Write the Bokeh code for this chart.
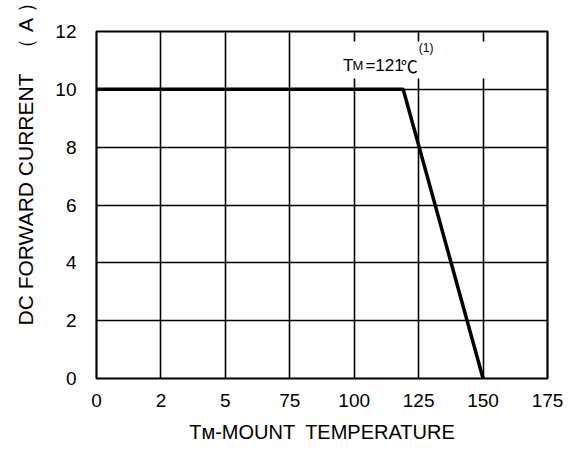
from bokeh.plotting import figure
from bokeh.models import FixedTicker, Label, Title
from bokeh.embed import file_html
from bokeh.resources import INLINE

# ---- data ----
temps = [0, 119, 150]
current = [10, 10, 0]
x_tick_values = [0, 25, 50, 75, 100, 125, 150, 175]
x_tick_labels = ["0", "2", "5", "75", "100", "125", "150", "175"]
y_tick_values = [0, 2, 4, 6, 8, 10, 12]
x_title = "T\u1d0d-MOUNT\u2002TEMPERATURE"
y_title = "DC FORWARD CURRENT\u2002\u2009（ A ）"

# ---- layout (picture pixels of the frame) ----
W, H = 579, 449
PL, PR, PT, PB = 95, 547, 31, 378
X0, X1, Y0, Y1 = 0, 175, 0, 12


def dx(px):
    return X0 + (px - PL) / (PR - PL) * (X1 - X0)


def dy(py):
    return Y0 + (PB - py) / (PB - PT) * (Y1 - Y0)


p = figure(width=W, height=H, x_range=(X0, X1), y_range=(Y0, Y1),
           output_backend="svg", toolbar_location=None,
           min_border_left=PL, min_border_right=W - PR,
           min_border_top=PT, min_border_bottom=H - PB)
p.title.visible = False
p.background_fill_color = "white"
p.border_fill_color = "white"
p.outline_line_color = "black"
p.outline_line_width = 2.2
p.outline_line_alpha = 1

p.xaxis.ticker = FixedTicker(ticks=x_tick_values)
p.xaxis.major_label_overrides = {v: s for v, s in zip(x_tick_values, x_tick_labels)}
p.yaxis.ticker = FixedTicker(ticks=y_tick_values)
for ax, so in ((p.xaxis, 15), (p.yaxis, 20)):
    ax.axis_line_color = None
    ax.major_tick_line_color = None
    ax.minor_tick_line_color = None
    ax.major_tick_out = 0
    ax.major_tick_in = 0
    ax.major_label_standoff = so
    ax.major_label_text_font = "Liberation Sans"
    ax.major_label_text_font_size = "19px"
    ax.major_label_text_color = "black"

p.xaxis.axis_label = x_title
p.xaxis.axis_label_standoff = 11
p.xaxis.axis_label_text_font = "Liberation Sans"
p.xaxis.axis_label_text_font_size = "20px"
p.xaxis.axis_label_text_font_style = "normal"
p.xaxis.axis_label_text_color = "black"

# y-axis title: starts just above the bottom of the frame, reads upward
p.add_layout(Title(text=y_title, align="left", offset=53, vertical_align="top",
                   standoff=27, text_font="Liberation Sans", text_font_size="21px",
                   text_font_style="normal", text_color="black"), "left")

p.xgrid.ticker = FixedTicker(ticks=x_tick_values)
p.ygrid.ticker = FixedTicker(ticks=y_tick_values)
for g in (p.xgrid, p.ygrid):
    g.grid_line_color = "black"
    g.grid_line_width = 1.6
    g.grid_line_alpha = 1
    g.level = "image"

# white box behind the annotation (covers the grid)
p.quad(left=[dx(335)], right=[dx(492)], top=[dy(41)], bottom=[dy(78)],
       fill_color="white", fill_alpha=1, line_color=None, level="underlay")

p.line(temps, current, line_color="black", line_width=3.5)


def lab(text, px, py, size, font="Liberation Sans"):
    p.add_layout(Label(x=dx(px), y=dy(py), text=text,
                       text_font=font, text_font_size=size,
                       text_color="black", text_align="left",
                       text_baseline="alphabetic"))


# annotation  TM=121℃(1)
lab("T", 342, 65, "17px")
lab("M", 351.5, 65, "13px")
lab("=121", 364.5, 65, "17px")
lab("℃", 400, 65, "17px", font="Noto Sans CJK SC")
lab("(1)", 418, 47.5, "12px")

open("out.html", "w").write(file_html(p, INLINE))
